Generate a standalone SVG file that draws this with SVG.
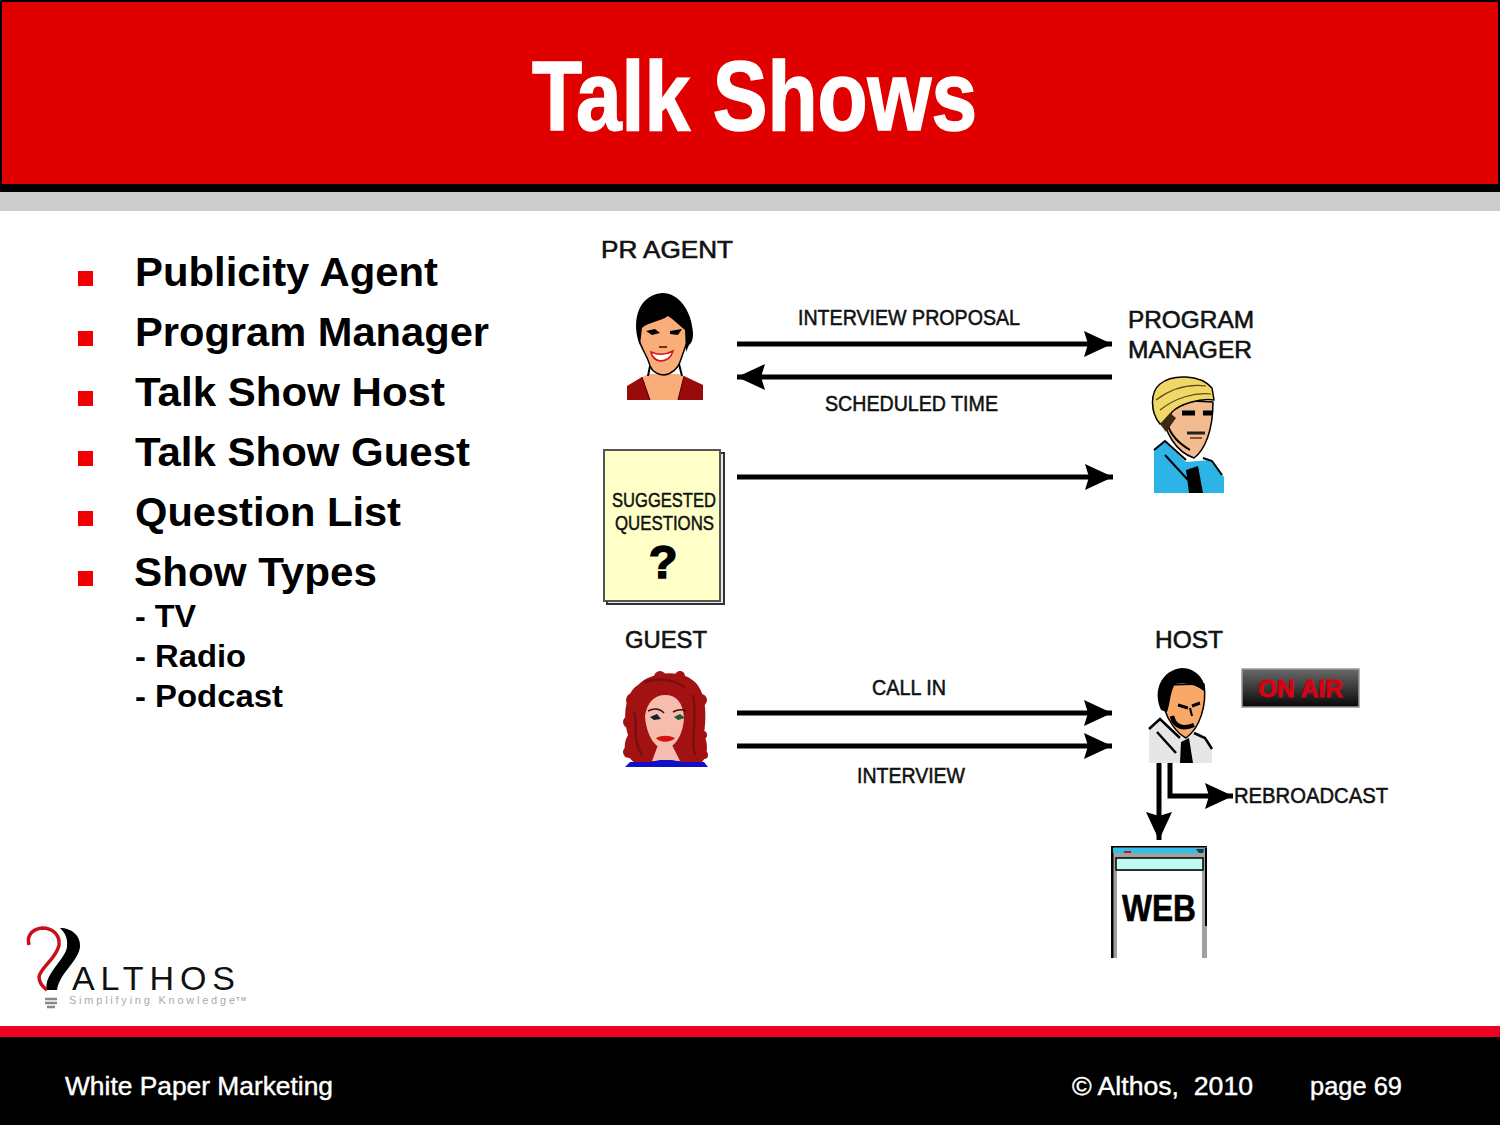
<svg xmlns="http://www.w3.org/2000/svg" width="1500" height="1125" viewBox="0 0 1500 1125">
<style>
text{font-family:"Liberation Sans",Arial,sans-serif;fill:#000}
.b{font-weight:bold;font-size:41px}
.s{font-weight:bold;font-size:32px}
.f{font-size:25px;fill:#fff;stroke:#fff;stroke-width:.4;white-space:pre}
.l{font-size:24px;fill:#111;stroke:#111;stroke-width:.6}
.m{font-size:22px;fill:#111;stroke:#111;stroke-width:.55}
.q{font-size:20.5px;fill:#111;stroke:#111;stroke-width:.5}
.c{fill:none;stroke:#000;stroke-width:5}
.o{stroke:#000;stroke-width:1.5;stroke-linejoin:round}
.k{fill:#000}
</style>
<defs>
<marker id="ah" markerUnits="userSpaceOnUse" markerWidth="30" markerHeight="28" refX="28" refY="13" orient="auto"><path d="M0 0L28 13L0 26L4 13Z" fill="#000"/></marker>
<linearGradient id="air" x1="0" y1="0" x2="0" y2="1"><stop offset="0" stop-color="#6a6a6a"/><stop offset="1" stop-color="#080808"/></linearGradient>
</defs>
<g id="header">
<rect width="1500" height="192" fill="#000"/>
<rect x="2" y="2" width="1496" height="182" fill="#e00000"/>
<rect y="192" width="1500" height="19" fill="#cccccc"/>
<text x="532" y="130" font-size="98" font-weight="bold" textLength="445" lengthAdjust="spacingAndGlyphs" style="fill:#fff;stroke:#fff;stroke-width:1.6">Talk Shows</text>
</g>
<g id="bullets">
<g fill="#f00000"><rect x="78" y="271" width="15" height="15"/><rect x="78" y="331" width="15" height="15"/><rect x="78" y="391" width="15" height="15"/><rect x="78" y="451" width="15" height="15"/><rect x="78" y="511" width="15" height="15"/><rect x="78" y="571" width="15" height="15"/></g>
<text class="b" x="135" y="286" textLength="303" lengthAdjust="spacingAndGlyphs">Publicity Agent</text>
<text class="b" x="135" y="346" textLength="354" lengthAdjust="spacingAndGlyphs">Program Manager</text>
<text class="b" x="135" y="406" textLength="310" lengthAdjust="spacingAndGlyphs">Talk Show Host</text>
<text class="b" x="135" y="466" textLength="335" lengthAdjust="spacingAndGlyphs">Talk Show Guest</text>
<text class="b" x="135" y="526" textLength="266" lengthAdjust="spacingAndGlyphs">Question List</text>
<text class="b" x="134" y="586" textLength="243" lengthAdjust="spacingAndGlyphs">Show Types</text>
<text class="s" x="135" y="627" textLength="61" lengthAdjust="spacingAndGlyphs">- TV</text>
<text class="s" x="135" y="667" textLength="111" lengthAdjust="spacingAndGlyphs">- Radio</text>
<text class="s" x="135" y="707" textLength="148" lengthAdjust="spacingAndGlyphs">- Podcast</text>
</g>
<g id="connectors">
<path class="c" d="M737 344H1112" marker-end="url(#ah)"/>
<path class="c" d="M1112 377H737" marker-end="url(#ah)"/>
<path class="c" d="M737 477H1113" marker-end="url(#ah)"/>
<path class="c" d="M737 713H1112" marker-end="url(#ah)"/>
<path class="c" d="M737 746H1112" marker-end="url(#ah)"/>
<path class="c" d="M1159 763V840" marker-end="url(#ah)"/>
<path class="c" d="M1170 763V796H1233" marker-end="url(#ah)"/>
<text class="m" x="798" y="325" textLength="222" lengthAdjust="spacingAndGlyphs">INTERVIEW PROPOSAL</text>
<text class="m" x="825" y="411" textLength="173" lengthAdjust="spacingAndGlyphs">SCHEDULED TIME</text>
<text class="m" x="872" y="695" textLength="74" lengthAdjust="spacingAndGlyphs">CALL IN</text>
<text class="m" x="857" y="783" textLength="108" lengthAdjust="spacingAndGlyphs">INTERVIEW</text>
<text class="m" x="1234" y="803" textLength="154" lengthAdjust="spacingAndGlyphs">REBROADCAST</text>
</g>
<g id="pr-agent">
<text class="l" x="601" y="258" textLength="132" lengthAdjust="spacingAndGlyphs">PR AGENT</text>
<path d="M627 386L648 374H678L703 385V400H627Z" fill="#f9ae7a"/>
<path d="M627 386L642 377L650 400H627ZM703 385L684 376L678 400H703Z" fill="#990a0a"/>
<path d="M642 377L650 400M684 376L678 400" stroke="#400" stroke-width="1" fill="none"/>
<path class="o" d="M639 340C642 350 648 357 650 366C653 373 660 375 664 375C672 374 678 368 680 362L687 342V315H640Z" fill="#f9ae7a"/>
<path d="M650 366L648 376M679 364L682 376" stroke="#000" stroke-width="2"/>
<path class="k" d="M640 345C632 326 635 296 662 293C680 293 690 312 692 326C694 335 693 342 689 345L686 352L685 330C680 326 674 320 668 316C660 322 648 322 642 328Z"/>
<path d="M651 352C658 355 666 355 673 351C671 358 666 361 660 361C655 360 652 357 651 352Z" fill="#fff" stroke="#d81010" stroke-width="1.5"/>
<path d="M646 331L655 329L660 333L652 335ZM670 331L682 329L678 335L670 334Z" fill="#000"/>
<path d="M659 347H667" stroke="#7a3010" stroke-width="2"/>
</g>
<g id="program-manager">
<text class="l" x="1128" y="328" textLength="126" lengthAdjust="spacingAndGlyphs">PROGRAM</text>
<text class="l" x="1128" y="358" textLength="124" lengthAdjust="spacingAndGlyphs">MANAGER</text>
<path d="M1154 493V450L1165 442L1186 462L1210 460L1224 477V493Z" fill="#2db4e6"/>
<path d="M1154 450L1165 441L1186 460M1203 458L1212 461L1222 475M1165 455L1188 480" stroke="#000" stroke-width="2" fill="none"/>
<path class="k" d="M1186 470L1198 466L1203 493H1189Z"/>
<path class="o" d="M1163 412C1164 432 1176 452 1194 458C1205 450 1213 430 1213 402L1175 400Z" fill="#f3bb90"/>
<path d="M1166 420C1170 436 1180 444 1190 450" stroke="#000" stroke-width="2" fill="none"/>
<path class="o" d="M1160 424C1150 412 1150 392 1160 384C1172 374 1200 374 1212 388L1214 400C1200 398 1180 404 1172 412L1166 422Z" fill="#efd868"/>
<path d="M1156 400C1172 388 1190 384 1206 386M1160 410C1175 398 1195 392 1211 394" stroke="#5a4a10" stroke-width="1.2" fill="none"/>
<path d="M1160 424L1170 413L1176 418L1166 432Z" fill="#3a2a10"/>
<path d="M1182 413H1195M1203 413H1212" stroke="#000" stroke-width="5"/>
<path d="M1187 433H1205" stroke="#222" stroke-width="3"/>
<path d="M1190 438H1202" stroke="#8a5030" stroke-width="2"/>
</g>
<g id="suggested-questions">
<rect x="607" y="453" width="117" height="151" fill="#e8e8e8" stroke="#333" stroke-width="2"/>
<rect x="604" y="450" width="116" height="151" fill="#ffffc8" stroke="#555" stroke-width="2"/>
<text class="q" x="612" y="507" textLength="104" lengthAdjust="spacingAndGlyphs">SUGGESTED</text>
<text class="q" x="615" y="530" textLength="99" lengthAdjust="spacingAndGlyphs">QUESTIONS</text>
<text x="663" y="578" font-size="47" font-weight="bold" text-anchor="middle" style="stroke:#000;stroke-width:1.6">?</text>
</g>
<g id="guest">
<text class="l" x="625" y="648" textLength="82" lengthAdjust="spacingAndGlyphs">GUEST</text>
<g fill="#a31212"><path d="M636 764C624 755 622 745 628 735C622 715 626 692 638 685C650 672 680 668 695 682C708 695 706 720 704 735C710 747 706 760 700 764Z"/><circle cx="633" cy="700" r="7"/><circle cx="629" cy="722" r="6"/><circle cx="629" cy="752" r="6"/><circle cx="701" cy="700" r="6"/><circle cx="704" cy="755" r="4"/><circle cx="703" cy="735" r="4"/><circle cx="660" cy="677" r="6"/><circle cx="680" cy="676" r="5"/></g>
<path d="M634 712C638 725 632 740 642 755M693 695C698 715 690 740 695 755M645 682C655 678 670 678 685 687" stroke="#7a0e0e" stroke-width="2.5" fill="none"/>
<path d="M645 716C647 702 655 695 665 695C676 695 683 702 684 718C683 735 675 748 664 749C654 748 646 733 645 716Z" fill="#f6bcae"/>
<path d="M652 761L658 745H672L680 761Z" fill="#f6bcae"/>
<path d="M648 711C654 708 660 709 664 713M673 712C678 709 682 709 686 711" stroke="#3a1010" stroke-width="1.5" fill="none"/>
<path d="M650 717L657 714L661 719L654 720Z" fill="#123"/><path d="M674 717L680 714L685 718L678 720Z" fill="#253"/>
<path d="M656 738C662 735 668 735 675 738C670 743 660 743 656 738Z" fill="#d81010"/>
<path d="M625 767L630 762H650L660 760H672L682 762H704L708 767Z" fill="#1010c8"/>
</g>
<g id="host">
<text class="l" x="1155" y="648" textLength="68" lengthAdjust="spacingAndGlyphs">HOST</text>
<path d="M1149 763V728L1160 720L1180 738L1192 735L1200 733L1212 748V763Z" fill="#e6e6e6"/>
<path d="M1149 729L1160 719L1180 738M1194 733L1205 738L1212 749M1157 732L1176 753" stroke="#000" stroke-width="2.5" fill="none"/>
<path class="k" d="M1181 742L1189 738L1193 763H1180Z"/>
<path class="o" d="M1165 685L1204 684C1207 705 1200 728 1186 738C1176 733 1168 720 1164 708Z" fill="#f8a868"/>
<path class="k" d="M1161 710C1152 690 1162 670 1182 668C1196 668 1206 680 1205 692C1198 685 1186 682 1175 684C1170 692 1170 704 1167 712Z"/>
<path d="M1178 705L1188 708M1192 706L1200 703" stroke="#000" stroke-width="3"/>
<path d="M1172 716C1174 726 1182 730 1194 725" stroke="#000" stroke-width="4.5" fill="none"/>
<path d="M1190 708L1192 716" stroke="#000" stroke-width="2"/>
<rect x="1242" y="669" width="117" height="38" fill="url(#air)" stroke="#999" stroke-width="1.5"/>
<text x="1258" y="697" font-size="24" font-weight="bold" textLength="85" lengthAdjust="spacingAndGlyphs" style="fill:#d80012;stroke:#d80012;stroke-width:.8">ON AIR</text>
</g>
<g id="web">
<rect x="1111" y="846" width="96" height="112" fill="#a0a0a0"/>
<rect x="1111" y="846" width="2.5" height="112" fill="#000"/>
<rect x="1111" y="846" width="96" height="1.5" fill="#000"/>
<rect x="1113" y="848" width="93" height="5" fill="#30c0ee"/>
<rect x="1116" y="858" width="87" height="12" fill="#bdfaf0" stroke="#000" stroke-width="1.5"/>
<rect x="1117" y="871" width="85" height="87" fill="#fff"/>
<rect x="1205" y="848" width="2" height="78" fill="#000"/>
<rect x="1124" y="851" width="7" height="2" fill="#d01020"/>
<path d="M1196 849L1204 849L1203 853L1199 853Z" fill="#333"/>
<text x="1122" y="921" font-size="36" font-weight="bold" textLength="74" lengthAdjust="spacingAndGlyphs" style="stroke:#000;stroke-width:.6">WEB</text>
</g>
<g id="logo">
<path d="M29 945C26 934 34 929 42 928C54 928 60 936 59 945C57 958 40 968 39 977C39 983 43 987 47 990" fill="none" stroke="#c8101a" stroke-width="3.5"/>
<path class="k" d="M60 928C72 928 81 936 80 947C78 962 60 972 57 990H47C43 975 65 960 67 947C68 938 65 933 60 928Z"/>
<path d="M45 999H57M45 1003H57M47 1007H55" stroke="#888" stroke-width="2.5"/>
<text x="72" y="990" font-size="34" textLength="163" style="fill:#111">ALTHOS</text>
<text x="69" y="1004" font-size="11" textLength="166" style="fill:#aaa">Simplifying Knowledge</text>
<text x="236" y="1001" font-size="6" textLength="10" style="fill:#888">TM</text>
</g>
<g id="footer">
<rect y="1026" width="1500" height="11" fill="#f00020"/>
<rect y="1037" width="1500" height="88" fill="#000"/>
<text class="f" x="65" y="1095" textLength="268" lengthAdjust="spacingAndGlyphs">White Paper Marketing</text>
<text class="f" x="1072" y="1095" textLength="181" lengthAdjust="spacingAndGlyphs">© Althos,  2010</text>
<text class="f" x="1310" y="1095" textLength="92" lengthAdjust="spacingAndGlyphs">page 69</text>
</g>
</svg>
